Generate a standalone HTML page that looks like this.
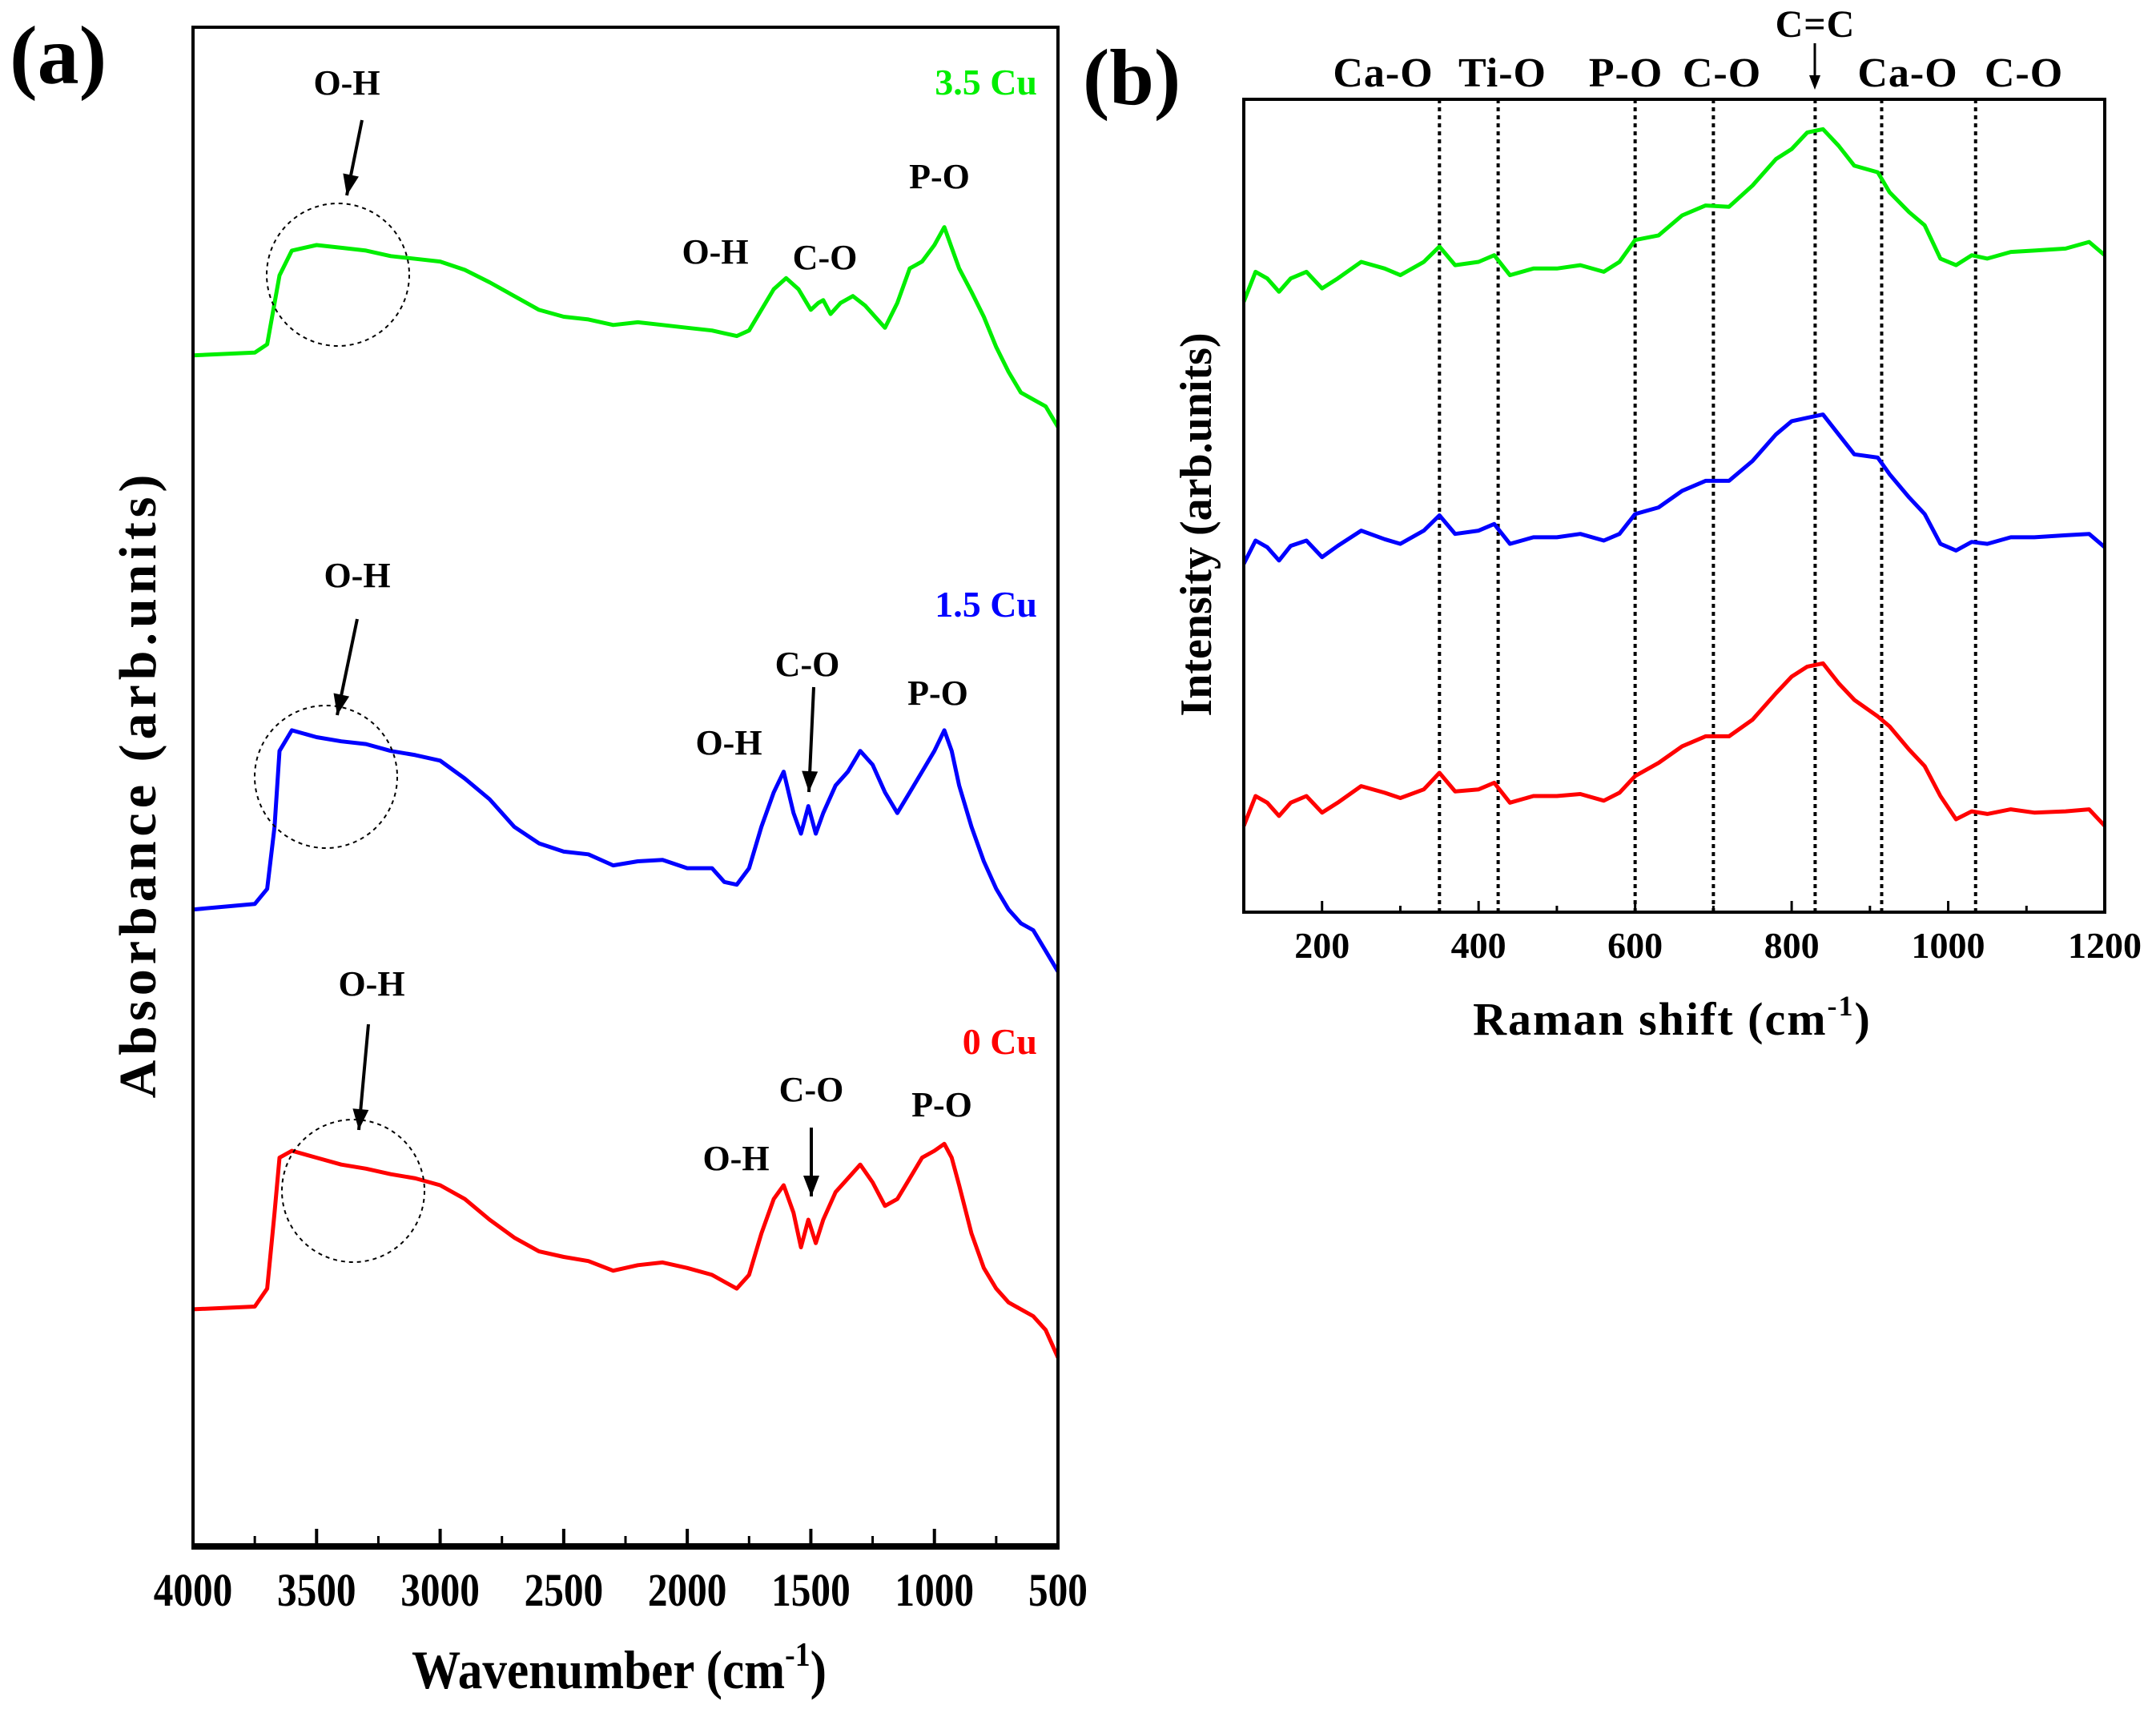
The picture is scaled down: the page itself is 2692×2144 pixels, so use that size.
<!DOCTYPE html>
<html><head><meta charset="utf-8"><style>
html,body{margin:0;padding:0;background:#fff;}
svg{display:block;font-family:"Liberation Serif",serif;font-weight:bold;}
</style></head><body>
<svg id="fig" width="2692" height="2144" viewBox="0 0 2692 2144" xmlns="http://www.w3.org/2000/svg">
<g id="pa"></g>
<g id="pb"></g>
</svg>
<script>
// ---- Panel (a) FTIR data ----
const ftirWnGreen = [4000,3750,3700,3650,3600,3500,3400,3300,3200,3100,3000,2900,2800,2700,2600,2500,2400,2300,2200,2100,2000,1900,1850,1800,1750,1700,1650,1600,1550,1500,1470,1450,1420,1380,1330,1280,1230,1200,1150,1100,1050,1000,960,930,900,850,800,750,700,650,600,550,500];
const ftirGreen = [864,866,872,922,940,944,942,940,936,934,932,926,917,907,897,892,890,886,888,886,884,882,880,878,882,897,912,920,912,897,902,904,894,902,907,900,890,884,902,927,932,944,957,942,927,910,892,870,852,837,832,827,812];
const ftirWn = [4000,3750,3700,3670,3650,3600,3500,3400,3300,3200,3100,3000,2900,2800,2700,2600,2500,2400,2300,2200,2100,2000,1900,1850,1800,1750,1700,1650,1610,1570,1540,1510,1480,1450,1400,1350,1300,1250,1200,1150,1100,1050,1000,960,930,900,850,800,750,700,650,600,550,500];
const ftirBlue = [462,466,477,522,577,592,587,584,582,577,574,570,557,542,522,510,504,502,494,497,498,492,492,482,480,492,522,547,562,532,517,537,517,532,552,562,577,567,547,532,547,562,577,592,577,552,522,497,477,462,452,447,432,417];
const ftirRed = [172,174,187,242,282,287,282,277,274,270,267,262,252,237,224,214,210,207,200,204,206,202,197,192,187,197,227,252,262,242,217,237,220,237,257,267,277,264,247,252,267,282,287,292,282,262,227,202,187,177,172,167,157,137];
const ftirMajorTicks = [4000,3500,3000,2500,2000,1500,1000,500];
const ftirMinorTicks = [3750,3250,2750,2250,1750,1250,750];

// ---- Panel (b) Raman data ----
const ramanX = [100,115,130,145,160,180,200,220,250,280,300,330,350,370,400,420,440,470,500,530,560,580,600,630,660,690,720,750,780,800,820,840,860,880,910,925,950,970,990,1010,1030,1050,1080,1110,1150,1180,1200];
const ramanGreen = [920,965,955,935,955,965,940,955,980,970,960,980,1003,975,980,990,960,970,970,975,965,980,1013,1020,1050,1065,1063,1095,1135,1150,1175,1180,1155,1125,1115,1085,1055,1035,985,975,990,985,995,997,1000,1010,990];
const ramanBlue = [525,560,550,530,552,560,535,552,575,562,555,575,598,570,575,585,555,565,565,570,560,570,600,610,635,650,650,680,720,740,745,750,720,690,685,660,625,600,555,545,558,555,565,565,568,570,550];
const ramanRed = [130,175,165,145,165,175,150,165,190,180,172,185,210,182,185,195,165,175,175,178,168,180,205,225,250,265,265,290,330,355,370,375,345,320,295,280,245,220,175,140,152,148,155,150,152,155,130];
const ramanMajorTicks = [200,400,600,800,1000,1200];
const ramanMinorTicks = [300,500,700,900,1100];
const ramanBands = [350,425,600,700,830,915,1035];
const ramanBandLabels = ["Ca-O","Ti-O","P-O","C-O","C=C","Ca-O","C-O"];

const NS="http://www.w3.org/2000/svg";
function mk(parent,tag,attrs,text){const e=document.createElementNS(NS,tag);for(const k in attrs)e.setAttribute(k,attrs[k]);if(text!==undefined)e.textContent=text;parent.appendChild(e);return e;}

// ===== Panel A =====
const pa=document.getElementById('pa');
const A={l:241,r:1321,t:34,b:1931};
const ax=w=>A.l+(4000-w)/3500*(A.r-A.l);
const ay=v=>A.b-v*(A.b-A.t)/1102;
function drawA(wn,vals,color,name){
  const d=wn.map((w,i)=>(i?'L':'M')+ax(w).toFixed(1)+' '+ay(vals[i]).toFixed(1)).join(' ');
  const p=mk(pa,'path',{d:d,fill:'none',stroke:color,'stroke-width':5,'stroke-linejoin':'round'});
  
  
}
drawA(ftirWnGreen,ftirGreen,'#00ee00','series-3.5cu');
drawA(ftirWn,ftirBlue,'#0000ff','series-1.5cu');
drawA(ftirWn,ftirRed,'#ff0000','series-0cu');
const fa=mk(pa,'rect',{x:A.l,y:A.t,width:A.r-A.l,height:A.b-A.t,fill:'none',stroke:'#000','stroke-width':4});


mk(pa,'line',{x1:A.l-2,x2:A.r+2,y1:A.b,y2:A.b,stroke:'#000','stroke-width':8});
ftirMajorTicks.forEach(t=>{
  mk(pa,'line',{x1:ax(t),x2:ax(t),y1:A.b,y2:A.b-22,stroke:'#000','stroke-width':4});
  const tl=mk(pa,'text',{x:ax(t),y:2005,'font-size':58,'text-anchor':'middle',transform:`translate(${ax(t)},0) scale(0.85,1) translate(${-ax(t)},0)`},String(t));
  
  
});
ftirMinorTicks.forEach(t=>mk(pa,'line',{x1:ax(t),x2:ax(t),y1:A.b,y2:A.b-13,stroke:'#000','stroke-width':3}));
</script>
<script>
// static annotations panel A
(function(){
const pa=document.getElementById('pa');
const NS="http://www.w3.org/2000/svg";
function mk(tag,attrs,text,name){const e=document.createElementNS(NS,tag);for(const k in attrs)e.setAttribute(k,attrs[k]);if(text!==undefined)e.textContent=text;
  
  
  pa.appendChild(e);return e;}
mk('text',{x:12,y:104,'font-size':104},'(a)','panel-label-a');
mk('text',{x:0,y:0,'font-size':66,'text-anchor':'middle','letter-spacing':6,transform:'translate(194,979) rotate(-90)'},'Absorbance (arb.units)','y-axis-title-a');
const xt=mk('text',{x:773,y:2108,'font-size':68,'text-anchor':'middle',transform:'translate(773,0) scale(0.9,1) translate(-773,0)'},'Wavenumber (cm','x-axis-title-a');
const ts=document.createElementNS(NS,'tspan');ts.setAttribute('dy',-28);ts.setAttribute('font-size',42);ts.textContent='-1';xt.appendChild(ts);
const ts2=document.createElementNS(NS,'tspan');ts2.setAttribute('dy',28);ts2.textContent=')';xt.appendChild(ts2);
mk('text',{x:1295,y:118,'font-size':46,fill:'#00ee00','text-anchor':'end'},'3.5 Cu','legend-3.5cu');
mk('text',{x:1295,y:770,'font-size':46,fill:'#0000ff','text-anchor':'end'},'1.5 Cu','legend-1.5cu');
mk('text',{x:1295,y:1316,'font-size':46,fill:'#ff0000','text-anchor':'end'},'0 Cu','legend-0cu');
const labels=[['O-H',433,118],['O-H',893,329],['C-O',1030,336],['P-O',1173,235],
 ['O-H',446,733],['O-H',910,942],['C-O',1008,844],['P-O',1171,880],
 ['O-H',464,1243],['O-H',919,1461],['C-O',1013,1375],['P-O',1176,1394]];
labels.forEach(l=>mk('text',{x:l[1],y:l[2],'font-size':44,'text-anchor':'middle'},l[0],'band-label'));
const arrows=[[452,150,433,244],[446,773,421,893],[1016,858,1010,989],[460,1279,448,1411],[1013,1408,1013,1494]];
arrows.forEach(a=>{
  mk('line',{x1:a[0],y1:a[1],x2:a[2],y2:a[3],stroke:'#000','stroke-width':4},undefined,'arrow');
  const ang=Math.atan2(a[3]-a[1],a[2]-a[0]);const L=26,W=10;
  const bx=a[2]-L*Math.cos(ang),by=a[3]-L*Math.sin(ang);
  const px=-Math.sin(ang)*W,py=Math.cos(ang)*W;
  mk('polygon',{points:`${a[2]},${a[3]} ${bx+px},${by+py} ${bx-px},${by-py}`,fill:'#000'},undefined,'arrow-head');
});
[[422,343],[407,970],[441,1487]].forEach(c=>mk('circle',{cx:c[0],cy:c[1],r:89,fill:'none',stroke:'#000','stroke-width':2,'stroke-dasharray':'5 5'},undefined,'oh-region-circle'));
})();
</script>
<script>
// ===== Panel B =====
(function(){
const pb=document.getElementById('pb');
const NS="http://www.w3.org/2000/svg";
function mk(tag,attrs,text){const e=document.createElementNS(NS,tag);for(const k in attrs)e.setAttribute(k,attrs[k]);if(text!==undefined)e.textContent=text;pb.appendChild(e);return e;}
const B={l:1553,r:2628,t:124,b:1139};
const bx=x=>B.l+(x-100)/1100*(B.r-B.l);
const by=v=>B.b-v*(B.b-B.t)/1225;
function drawB(vals,color,name){
  const d=ramanX.map((x,i)=>(i?'L':'M')+bx(x).toFixed(1)+' '+by(vals[i]).toFixed(1)).join(' ');
  const p=mk('path',{d:d,fill:'none',stroke:color,'stroke-width':5,'stroke-linejoin':'round'});
  
  
}
ramanBands.forEach((b,i)=>{
  const l=mk('line',{x1:bx(b),x2:bx(b),y1:B.t,y2:B.b,stroke:'#000','stroke-width':4,'stroke-dasharray':'5 5'});
  
  
});
drawB(ramanGreen,'#00ee00','raman-3.5cu');
drawB(ramanBlue,'#0000ff','raman-1.5cu');
drawB(ramanRed,'#ff0000','raman-0cu');
const f=mk('rect',{x:B.l,y:B.t,width:B.r-B.l,height:B.b-B.t,fill:'none',stroke:'#000','stroke-width':4});


ramanMajorTicks.forEach(t=>{
  mk('line',{x1:bx(t),x2:bx(t),y1:B.b,y2:B.b-14,stroke:'#000','stroke-width':3});
  const tl=mk('text',{x:bx(t),y:1196,'font-size':46,'text-anchor':'middle'},String(t));
  
  
});
ramanMinorTicks.forEach(t=>mk('line',{x1:bx(t),x2:bx(t),y1:B.b,y2:B.b-8,stroke:'#000','stroke-width':3}));
ramanBandLabels.forEach((s,i)=>{
  let x=bx(ramanBands[i]);
  let y=108;
  if(i===0)x=1727; if(i===1)x=1876; if(i===2)x=2030; if(i===3)x=2150; if(i===5)x=2382; if(i===6)x=2527;
  if(i===4){y=46;}
  const t=mk('text',{x:x,y:y,'font-size':i===4?48:52,'text-anchor':'middle','letter-spacing':1},s);
  
  
});
mk('line',{x1:2266,x2:2266,y1:54,y2:100,stroke:'#000','stroke-width':3});
mk('polygon',{points:'2266,112 2259,94 2273,94',fill:'#000'});
const pl=mk('text',{x:1352,y:130,'font-size':100},'(b)');


const yt=mk('text',{x:0,y:0,'font-size':56,'text-anchor':'middle',transform:'translate(1512,655) rotate(-90)'},'Intensity (arb.units)');


const xt=mk('text',{x:2088,y:1292,'font-size':58,'text-anchor':'middle','letter-spacing':2},'Raman shift (cm');


const ts=document.createElementNS(NS,'tspan');ts.setAttribute('dy',-24);ts.setAttribute('font-size',36);ts.textContent='-1';xt.appendChild(ts);
const ts2=document.createElementNS(NS,'tspan');ts2.setAttribute('dy',24);ts2.textContent=')';xt.appendChild(ts2);
})();
</script>
</body></html>
